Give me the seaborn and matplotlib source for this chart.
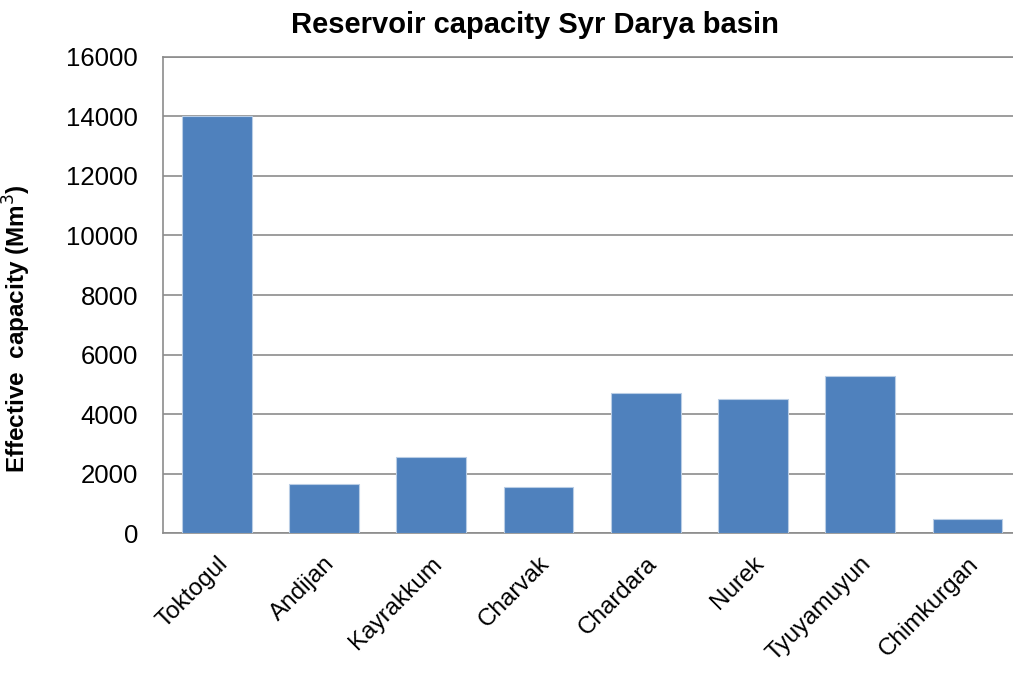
import matplotlib
matplotlib.use('Agg')
import matplotlib.pyplot as plt
import seaborn as sns
import pandas as pd

# Reservoir data
reservoirs = ['Toktogul', 'Andijan', 'Kayrakkum', 'Charvak',
              'Chardara', 'Nurek', 'Tyuyamuyun', 'Chimkurgan']
capacity = [14000, 1650, 2570, 1565, 4720, 4520, 5270, 490]
y_ticks = [0, 2000, 4000, 6000, 8000, 10000, 12000, 14000, 16000]

sns.set_style('white')
plt.rcParams['font.family'] = ['Liberation Sans', 'DejaVu Sans']
plt.rcParams['text.color'] = 'black'

df = pd.DataFrame({'Reservoir': reservoirs, 'Capacity': capacity})

fig = plt.figure(figsize=(10.13, 6.73), dpi=100)
ax = fig.add_axes([0.161, 0.2076, 0.847, 0.708])

sns.barplot(data=df, x='Reservoir', y='Capacity', color='#4F81BD',
            saturation=1, width=0.65, edgecolor='#B9CDE5', linewidth=0.8,
            ax=ax, zorder=3)

ax.set_ylim(0, 16000)
ax.set_yticks(y_ticks)
ax.set_yticklabels([str(t) for t in y_ticks], fontsize=18.5, color='black')
ax.yaxis.grid(True, color='#8C8C8C', linewidth=1.2, zorder=0)
ax.set_axisbelow(True)

ax.set_xlabel('')
ax.set_ylabel('Effective  capacity (Mm$^3$)', fontsize=17.5, fontweight='bold',
              color='black')
ax.yaxis.set_label_coords(-0.152, 0.43)
ax.set_xticks(range(len(reservoirs)))
ax.set_xticklabels(reservoirs, fontsize=17.5, rotation=45, ha='right',
                   rotation_mode='anchor', color='black')
ax.tick_params(axis='y', length=0, pad=18)
ax.tick_params(axis='x', length=0, pad=14)

for side in ['left', 'bottom', 'top']:
    ax.spines[side].set_color('#8C8C8C')
    ax.spines[side].set_linewidth(1.2)
ax.spines['right'].set_visible(False)

fig.text(0.528, 0.963, 'Reservoir capacity Syr Darya basin', ha='center',
         va='center', fontsize=21, fontweight='bold')

fig.savefig('out.png', dpi=100)
